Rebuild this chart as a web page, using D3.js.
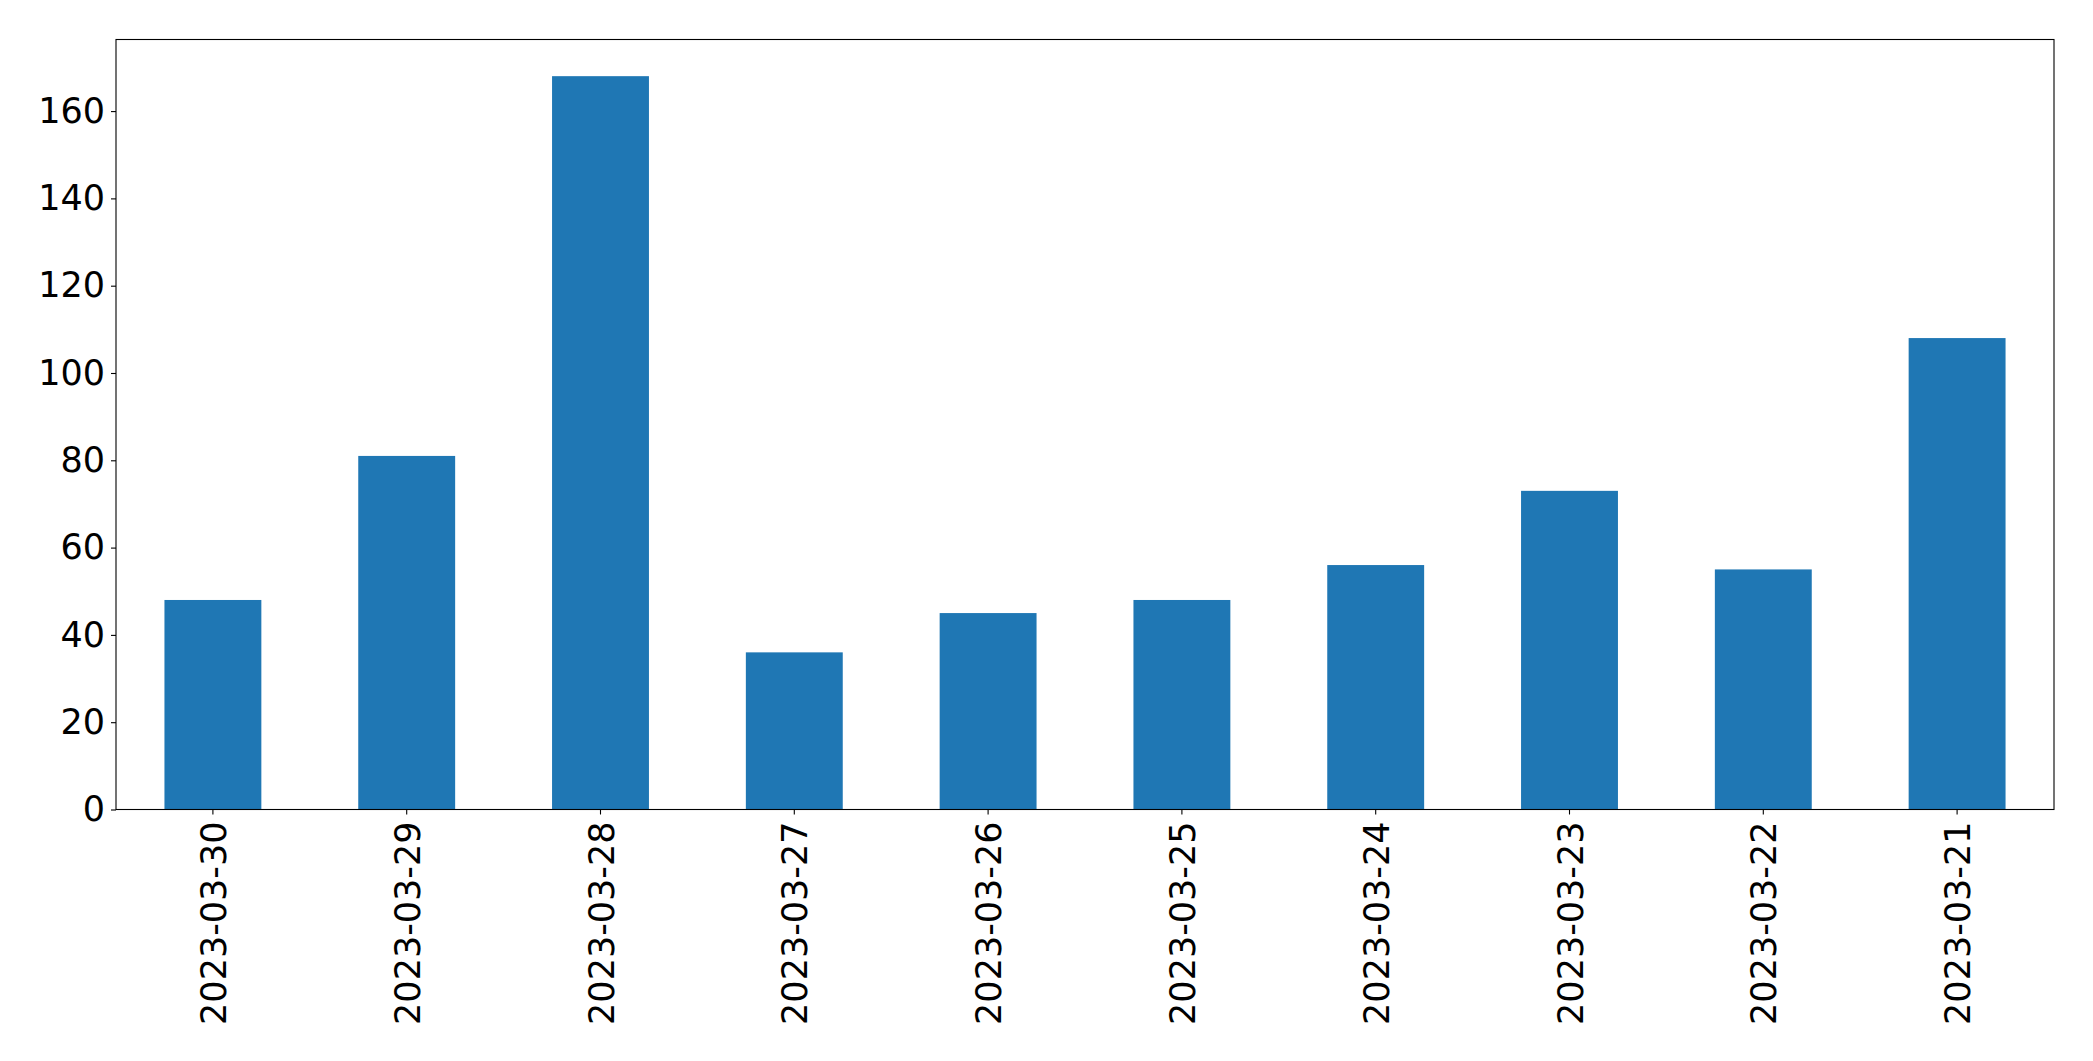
<!DOCTYPE html>
<html>
<head>
<meta charset="utf-8">
<script src="https://cdn.jsdelivr.net/npm/d3@7"></script>
<style>
html,body{margin:0;padding:0;background:#fff;}
svg{display:block;}
text{font-family:"DejaVu Sans",sans-serif;}
</style>
</head>
<body>
<script>
const categories = ["2023-03-30","2023-03-29","2023-03-28","2023-03-27","2023-03-26","2023-03-25","2023-03-24","2023-03-23","2023-03-22","2023-03-21"];
const values = [48, 81, 168, 36, 45, 48, 56, 73, 55, 108];
const yTicks = [0, 20, 40, 60, 80, 100, 120, 140, 160];
const yMax = 176.4;

const W = 2093, H = 1061;
const margin = {left: 116, right: W - 2054, top: 39.5, bottom: H - 809.5};
const fontSize = 35;

const svg = d3.select("body").append("svg").attr("width", W).attr("height", H);

const x = d3.scaleBand().domain(categories)
  .range([margin.left, W - margin.right])
  .paddingInner(0.5).paddingOuter(0.25);
const y = d3.scaleLinear().domain([0, yMax]).range([H - margin.bottom, margin.top]);

svg.append("g").selectAll("rect").data(values).join("rect")
  .attr("x", (d, i) => x(categories[i]))
  .attr("width", x.bandwidth())
  .attr("y", d => y(d))
  .attr("height", d => y(0) - y(d))
  .attr("fill", "#1f77b4");

// frame
svg.append("rect")
  .attr("x", margin.left).attr("y", margin.top)
  .attr("width", W - margin.right - margin.left)
  .attr("height", H - margin.bottom - margin.top)
  .attr("fill", "none").attr("stroke", "#000").attr("stroke-width", 1.1);

// y axis
const yAxis = d3.axisLeft(y).tickValues(yTicks).tickSize(5).tickPadding(6);
const gy = svg.append("g").attr("transform", `translate(${margin.left},0)`).call(yAxis);
gy.select(".domain").remove();
gy.selectAll("line").attr("stroke", "#000").attr("stroke-width", 1.1);
gy.selectAll("text").attr("font-size", fontSize).attr("fill", "#000")
  .attr("font-family", "DejaVu Sans, sans-serif");

// x axis
const xAxis = d3.axisBottom(x).tickSize(5).tickPadding(0);
const gx = svg.append("g").attr("transform", `translate(0,${H - margin.bottom})`).call(xAxis);
gx.select(".domain").remove();
gx.selectAll("line").attr("stroke", "#000").attr("stroke-width", 1.1);
gx.selectAll("text")
  .attr("font-size", fontSize).attr("fill", "#000")
  .attr("font-family", "DejaVu Sans, sans-serif")
  .attr("text-anchor", "end")
  .attr("dy", null)
  .attr("y", 0)
  .attr("transform", "translate(13,12) rotate(-90)");
</script>
</body>
</html>
